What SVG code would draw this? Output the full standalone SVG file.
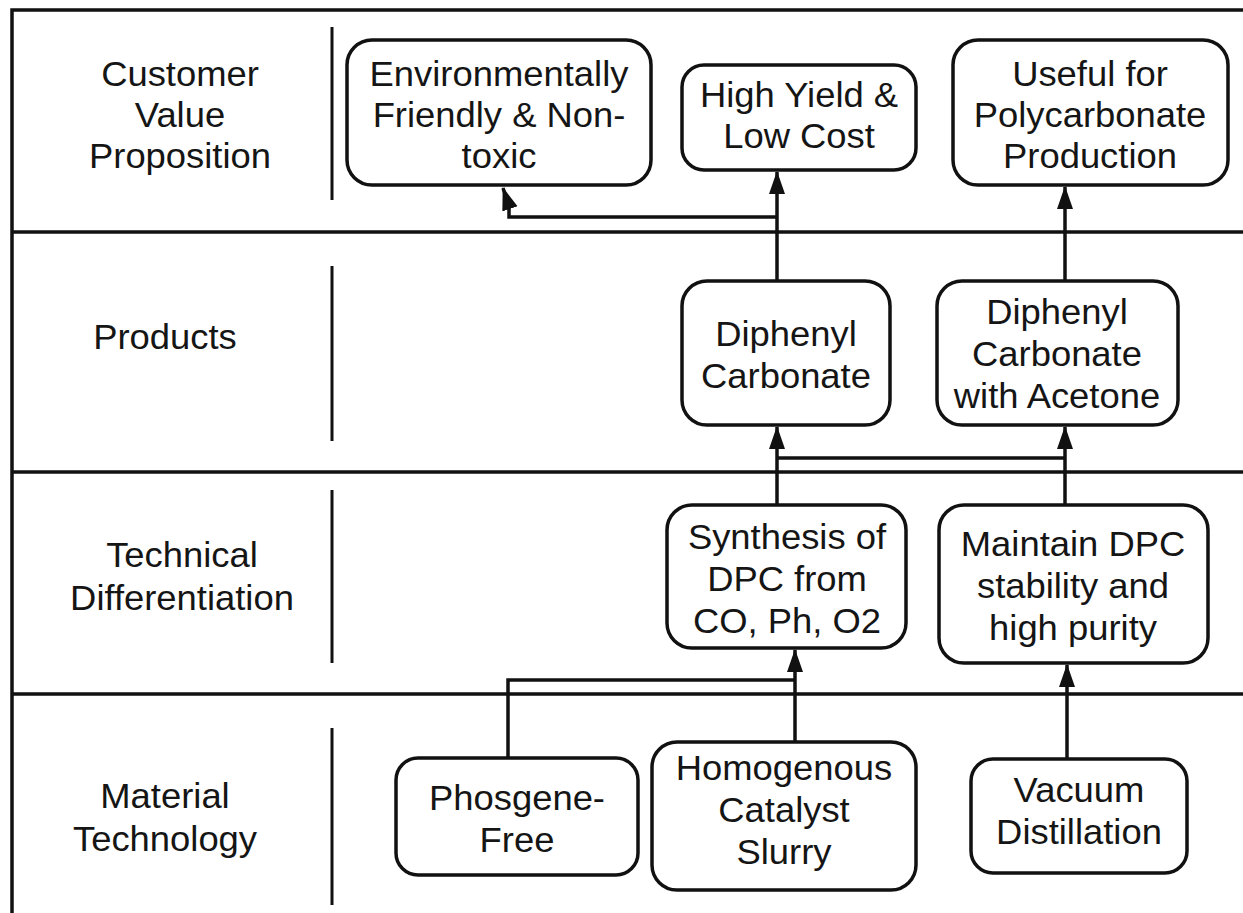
<svg xmlns="http://www.w3.org/2000/svg" width="1243" height="913" viewBox="0 0 1243 913">
<style>
.frame{stroke:#111;stroke-width:3.5;fill:none}
.sep{stroke:#111;stroke-width:3;fill:none}
.box{fill:#fff;stroke:#111;stroke-width:3.5}
.con{stroke:#111;stroke-width:3.5;fill:none}
text{font-family:"Liberation Sans",Arial,Helvetica,sans-serif;font-size:35px;fill:#151515;text-anchor:middle}
</style>
<defs>
<marker id="arr" markerUnits="userSpaceOnUse" markerWidth="24" markerHeight="20" viewBox="0 0 24 20" refX="22" refY="10" orient="auto">
<path d="M0,2 L23,10 L0,18 Z" fill="#111"/>
</marker>
</defs>
<rect width="1243" height="913" fill="#fff"/>
<g id="frame">
<path class="frame" d="M12,913 V10 H1243"/>
<path class="frame" d="M12,232 H1243 M12,472 H1243 M12,694 H1243"/>
<path class="sep" d="M332,27 V200 M332,266 V441 M332,490 V663 M332,728 V905"/>
</g>
<g id="row-labels">
<g transform="translate(180,0) scale(1.04,1)"><text><tspan x="0" y="86">Customer</tspan><tspan x="0" y="127">Value</tspan><tspan x="0" y="168">Proposition</tspan></text></g>
<g transform="translate(165,0) scale(1.04,1)"><text><tspan x="0" y="349">Products</tspan></text></g>
<g transform="translate(182,0) scale(1.04,1)"><text><tspan x="0" y="567">Technical</tspan><tspan x="0" y="610">Differentiation</tspan></text></g>
<g transform="translate(165,0) scale(1.04,1)"><text><tspan x="0" y="808">Material</tspan><tspan x="0" y="851">Technology</tspan></text></g>
</g>
<g id="connectors">
<path class="con" d="M777,281 V172" marker-end="url(#arr)"/>
<path class="con" d="M777,217 H509 V206 L503,188" marker-end="url(#arr)"/>
<path class="con" d="M1065,281 V187" marker-end="url(#arr)"/>
<path class="con" d="M777,505 V427" marker-end="url(#arr)"/>
<path class="con" d="M777,458 H1065"/>
<path class="con" d="M1065,505 V427" marker-end="url(#arr)"/>
<path class="con" d="M795,742 V650" marker-end="url(#arr)"/>
<path class="con" d="M508,758 V680 H795"/>
<path class="con" d="M1067,759 V665" marker-end="url(#arr)"/>
</g>
<g id="node-env">
<rect class="box" x="347" y="40" width="304" height="145" rx="25"/>
<g transform="translate(499,0) scale(1.04,1)"><text><tspan x="0" y="86">Environmentally</tspan><tspan x="0" y="127">Friendly &amp; Non-</tspan><tspan x="0" y="168">toxic</tspan></text></g>
</g>
<g id="node-highyield">
<rect class="box" x="682" y="65" width="234" height="105" rx="22"/>
<g transform="translate(799,0) scale(1.04,1)"><text><tspan x="0" y="107">High Yield &amp;</tspan><tspan x="0" y="148">Low Cost</tspan></text></g>
</g>
<g id="node-useful">
<rect class="box" x="953" y="40" width="275" height="145" rx="25"/>
<g transform="translate(1090,0) scale(1.04,1)"><text><tspan x="0" y="86">Useful for</tspan><tspan x="0" y="127">Polycarbonate</tspan><tspan x="0" y="168">Production</tspan></text></g>
</g>
<g id="node-dpc">
<rect class="box" x="682" y="281" width="208" height="144" rx="25"/>
<g transform="translate(786,0) scale(1.04,1)"><text><tspan x="0" y="346">Diphenyl</tspan><tspan x="0" y="388">Carbonate</tspan></text></g>
</g>
<g id="node-dpca">
<rect class="box" x="937" y="281" width="241" height="144" rx="25"/>
<g transform="translate(1057,0) scale(1.04,1)"><text><tspan x="0" y="324">Diphenyl</tspan><tspan x="0" y="366">Carbonate</tspan><tspan x="0" y="408">with Acetone</tspan></text></g>
</g>
<g id="node-synthesis">
<rect class="box" x="667" y="505" width="239" height="143" rx="25"/>
<g transform="translate(787,0) scale(1.04,1)"><text><tspan x="0" y="549">Synthesis of</tspan><tspan x="0" y="591">DPC from</tspan><tspan x="0" y="633">CO, Ph, O2</tspan></text></g>
</g>
<g id="node-maintain">
<rect class="box" x="939" y="505" width="269" height="158" rx="25"/>
<g transform="translate(1073,0) scale(1.04,1)"><text><tspan x="0" y="556">Maintain DPC</tspan><tspan x="0" y="598">stability and</tspan><tspan x="0" y="640">high purity</tspan></text></g>
</g>
<g id="node-phosgene">
<rect class="box" x="396" y="758" width="242" height="117" rx="22"/>
<g transform="translate(517,0) scale(1.04,1)"><text><tspan x="0" y="810">Phosgene-</tspan><tspan x="0" y="852">Free</tspan></text></g>
</g>
<g id="node-homogenous">
<rect class="box" x="652" y="742" width="264" height="148" rx="25"/>
<g transform="translate(784,0) scale(1.04,1)"><text><tspan x="0" y="780">Homogenous</tspan><tspan x="0" y="822">Catalyst</tspan><tspan x="0" y="864">Slurry</tspan></text></g>
</g>
<g id="node-vacuum">
<rect class="box" x="971" y="759" width="216" height="114" rx="22"/>
<g transform="translate(1079,0) scale(1.04,1)"><text><tspan x="0" y="802">Vacuum</tspan><tspan x="0" y="844">Distillation</tspan></text></g>
</g>
</svg>
